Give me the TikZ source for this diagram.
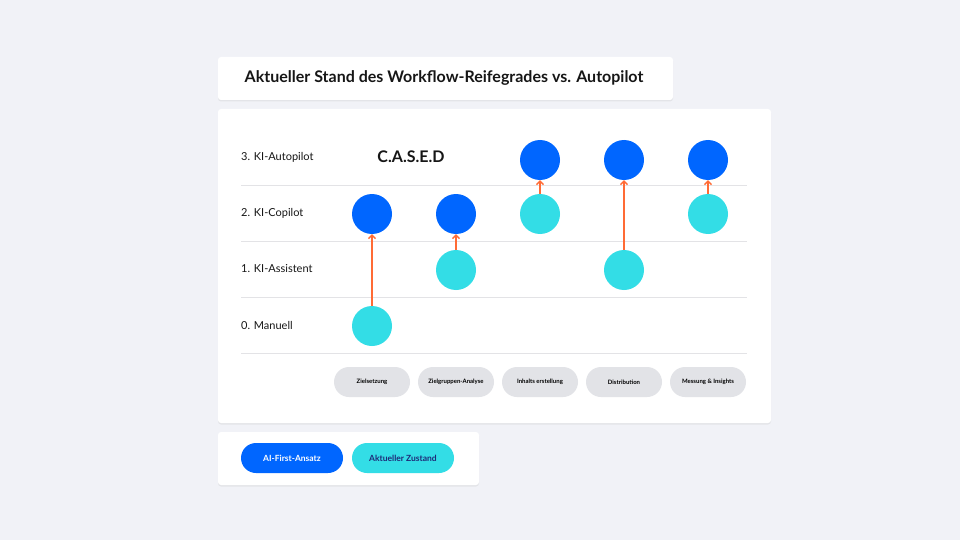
\documentclass[tikz,border=0pt]{standalone}
\usepackage{fontspec}
\setmainfont{Lato}
\usetikzlibrary{arrows.meta,shadows}
\definecolor{bg}{HTML}{F1F2F7}
\definecolor{aiblue}{HTML}{0066FF}
\definecolor{aicyan}{HTML}{33DDE6}
\definecolor{pillgrey}{HTML}{E2E3E7}
\definecolor{gridline}{HTML}{E3E3E6}
\definecolor{arrowor}{HTML}{FF6B35}
\definecolor{navy}{HTML}{1E2A78}
\definecolor{txt}{HTML}{161616}
\tikzset{
  panel/.style={fill=white, rounded corners=3pt, drop shadow={opacity=0.12, shadow xshift=0pt, shadow yshift=-1.5pt}},
  rowlabel/.style={anchor=west, font=\fontsize{11}{13}\selectfont, text=txt, inner sep=0pt},
  bluedot/.style={circle, fill=aiblue, minimum size=40pt, inner sep=0pt},
  cyandot/.style={circle, fill=aicyan, minimum size=40pt, inner sep=0pt},
  upgrade/.style={draw=arrowor, line width=1.3pt, -{Straight Barb[length=3.5pt,width=7pt,line width=1.3pt]}},
  gridrule/.style={draw=gridline, line width=0.8pt},
  steppill/.style={rounded corners=15pt, fill=pillgrey, minimum width=76pt, minimum height=30pt, inner sep=0pt, font=\bfseries\fontsize{6}{7}\selectfont, text=black},
  legpill/.style={rounded corners=15pt, minimum width=102pt, minimum height=30pt, inner sep=0pt, font=\bfseries\fontsize{8.5}{10}\selectfont}
}
\begin{document}
\begin{tikzpicture}[x=1pt,y=-1pt]
\fill[bg] (0,0) rectangle (960,540);
\useasboundingbox (0,0) rectangle (960,540);
% title
\path[panel] (218,57) rectangle (673,100);
\node[font=\bfseries\fontsize{16}{18}\selectfont, text=txt] (title) at (444,78) {Aktueller Stand des Workflow-Reifegrades vs. Autopilot};
% main panel
\path[panel] (218,109) rectangle (771,423);
\foreach \yy/\nm in {185/l3,241/l2,297/l1,353/l0}{
  \coordinate (\nm a) at (241,\yy);
  \coordinate (\nm b) at (747,\yy);
  \draw[gridrule] (\nm a) -- (\nm b);
}
\node[rowlabel] (r3) at (241,157) {3. KI-Autopilot};
\node[rowlabel] (r2) at (241,213) {2. KI-Copilot};
\node[rowlabel] (r1) at (241,269) {1. KI-Assistent};
\node[rowlabel] (r0) at (241,325) {0. Manuell};
\node[font=\bfseries\fontsize{16}{18}\selectfont, text=txt] (cased) at (411,157) {C.A.S.E.D};
% dots
\node[bluedot] (b1) at (372,214) {};
\node[cyandot] (c1) at (372,326) {};
\node[bluedot] (b2) at (456,214) {};
\node[cyandot] (c2) at (456,270) {};
\node[bluedot] (b3) at (540,160) {};
\node[cyandot] (c3) at (540,214) {};
\node[bluedot] (b4) at (624,160) {};
\node[cyandot] (c4) at (624,270) {};
\node[bluedot] (b5) at (708,160) {};
\node[cyandot] (c5) at (708,214) {};
\foreach \i in {1,...,5}{
  \draw[upgrade] (c\i.north) -- (b\i.south);
}
% step pills
\node[steppill] (p1) at (372,382) {Zielsetzung};
\node[steppill] (p2) at (456,382) {Zielgruppen-Analyse};
\node[steppill] (p3) at (540,382) {Inhalts erstellung};
\node[steppill] (p4) at (624,382) {Distribution};
\node[steppill] (p5) at (708,382) {Messung \& Insights};
% legend
\path[panel] (218,432) rectangle (479,485);
\node[legpill, fill=aiblue, text=white] (lg1) at (292,458) {AI-First-Ansatz};
\node[legpill, fill=aicyan, text=navy] (lg2) at (403,458) {Aktueller Zustand};
\end{tikzpicture}
\end{document}
